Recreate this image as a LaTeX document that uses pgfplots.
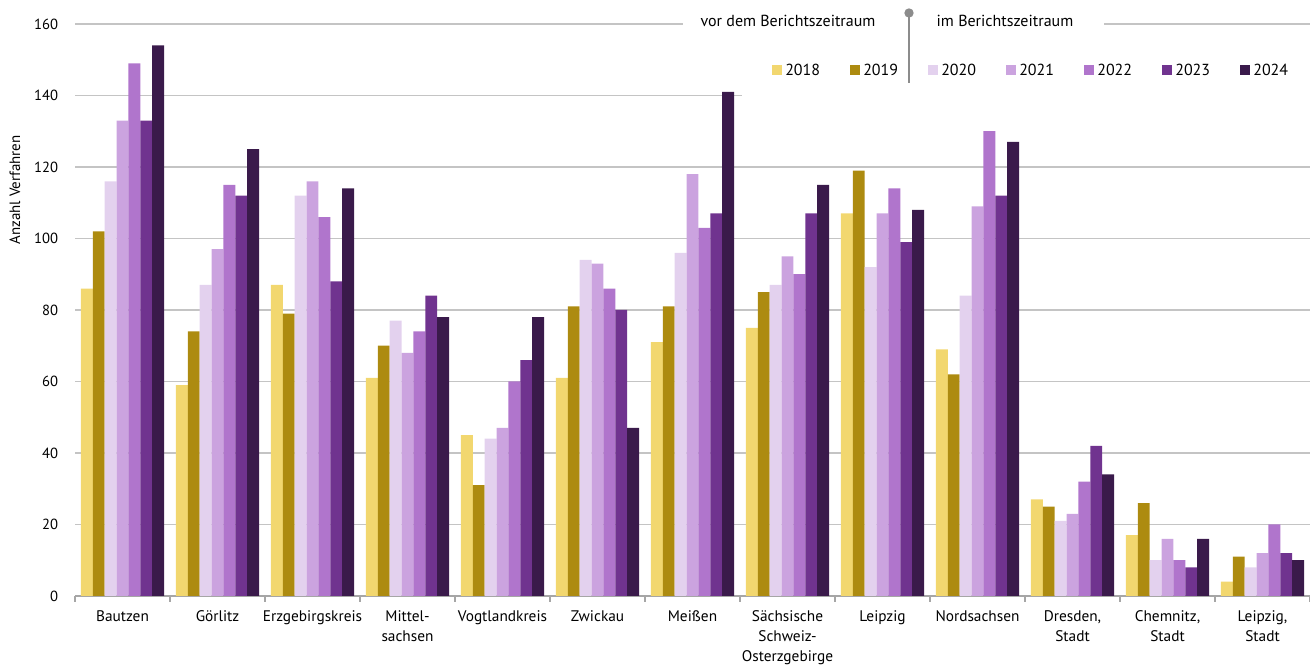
\documentclass[border=0pt]{standalone}
\usepackage{pgfplots}
\pgfplotsset{compat=1.18}
\usepackage{fontspec}
\setmainfont{PT Sans}
\definecolor{c18}{HTML}{F2D76F}
\definecolor{c19}{HTML}{AD8B10}
\definecolor{c20}{HTML}{E3D1EE}
\definecolor{c21}{HTML}{CBA3DF}
\definecolor{c22}{HTML}{B075CC}
\definecolor{c23}{HTML}{70338F}
\definecolor{c24}{HTML}{3A1A4B}
\definecolor{gridgray}{HTML}{C4C4C4}
\definecolor{axgray}{HTML}{A6A6A6}
\definecolor{markgray}{HTML}{8C8C8C}
\begin{document}
\fontsize{12}{16}\selectfont
\begin{tikzpicture}[font=\fontsize{12}{16}\selectfont]
\useasboundingbox (0,0) rectangle (982.5pt,499.5pt);
\begin{axis}[
  at={(56.25pt,52.5pt)}, anchor=south west,
  scale only axis, width=926.25pt, height=429pt,
  xmin=-0.5, xmax=12.5, ymin=0, ymax=160,
  ybar=0pt, bar width=8.9pt,
  ytick={0,20,...,160},
  ymajorgrids, grid style={draw=gridgray, line width=0.8pt},
  axis x line*=bottom, axis y line*=left,
  y axis line style={draw=none},
  x axis line style={-, draw=axgray, line width=0.8pt},
  xtick={0,...,12},
  xticklabels={Bautzen, Görlitz, Erzgebirgskreis, {Mittel-\\sachsen}, Vogtlandkreis, Zwickau, Meißen, {Sächsische\\Schweiz-\\Osterzgebirge}, Leipzig, Nordsachsen, {Dresden,\\Stadt}, {Chemnitz,\\Stadt}, {Leipzig,\\Stadt}},
  major tick length=0pt,
  minor xtick={-0.5,0.5,...,12.5},
  minor x tick style={draw=axgray, line width=0.8pt},
  minor tick length=4.5pt, tick align=outside,
  xticklabel style={align=center, font=\fontsize{11.5}{15}\selectfont, yshift=-7pt},
  yticklabel style={font=\fontsize{11}{13}\selectfont, xshift=-8.5pt},
  /pgf/number format/assume math mode=true,
  ylabel={Anzahl Verfahren},
  ylabel style={at={(axis description cs:-0.0486,0.71)}, anchor=center, font=\fontsize{11.2}{13}\selectfont},
  every axis plot/.append style={draw=none},
]
\addplot[fill=c18] coordinates {(0,86) (1,59) (2,87) (3,61) (4,45) (5,61) (6,71) (7,75) (8,107) (9,69) (10,27) (11,17) (12,4)};
\addplot[fill=c19] coordinates {(0,102) (1,74) (2,79) (3,70) (4,31) (5,81) (6,81) (7,85) (8,119) (9,62) (10,25) (11,26) (12,11)};
\addplot[fill=c20] coordinates {(0,116) (1,87) (2,112) (3,77) (4,44) (5,94) (6,96) (7,87) (8,92) (9,84) (10,21) (11,10) (12,8)};
\addplot[fill=c21] coordinates {(0,133) (1,97) (2,116) (3,68) (4,47) (5,93) (6,118) (7,95) (8,107) (9,109) (10,23) (11,16) (12,12)};
\addplot[fill=c22] coordinates {(0,149) (1,115) (2,106) (3,74) (4,60) (5,86) (6,103) (7,90) (8,114) (9,130) (10,32) (11,10) (12,20)};
\addplot[fill=c23] coordinates {(0,133) (1,112) (2,88) (3,84) (4,66) (5,80) (6,107) (7,107) (8,99) (9,112) (10,42) (11,8) (12,12)};
\addplot[fill=c24] coordinates {(0,154) (1,125) (2,114) (3,78) (4,78) (5,47) (6,141) (7,115) (8,108) (9,127) (10,34) (11,16) (12,10)};
\end{axis}
% white areas behind the legend
\fill[white] (512.25pt,470pt) rectangle (828pt,495pt);
\fill[white] (556.5pt,424.5pt) rectangle (982.5pt,469.5pt);
% period marker
\draw[markgray, line width=0.9pt] (681.75pt,489.75pt) -- (681.75pt,437.25pt);
\fill[markgray] (681.75pt,489.75pt) circle (3.5pt);
\node[anchor=center, inner sep=0pt] at (591pt,484pt) {vor dem Berichtszeitraum};
\node[anchor=center, inner sep=0pt] at (753.75pt,483.5pt) {im Berichtszeitraum};
% legend
\foreach \c/\y [count=\i from 0] in {c18/2018,c19/2019,c20/2020,c21/2021,c22/2022,c23/2023,c24/2024}{
  \fill[\c] ({579pt+\i*58.5pt},443.25pt) rectangle ++(7.5pt,7.5pt);
  \node[anchor=west, inner sep=0pt] at ({588.75pt+\i*58.5pt},447pt) {\y};
}
\end{tikzpicture}
\end{document}
